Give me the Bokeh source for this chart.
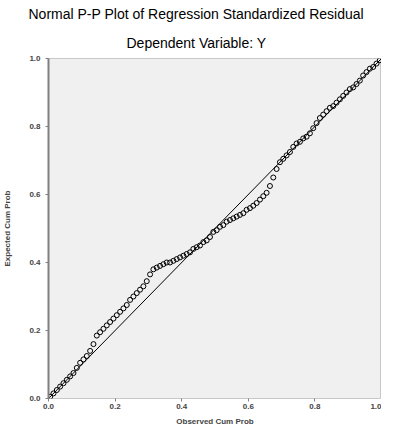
from bokeh.plotting import figure
from bokeh.models import Range1d, FixedTicker, Title, ColumnDataSource
from bokeh.embed import file_html
from bokeh.resources import INLINE

# Observed cumulative probability (x) and expected cumulative probability (y)
observed = [0.005, 0.015, 0.025, 0.035, 0.045, 0.055, 0.065, 0.075, 0.085, 0.095,
            0.105, 0.115, 0.125, 0.135, 0.145, 0.155, 0.165, 0.175, 0.185, 0.195,
            0.205, 0.215, 0.225, 0.235, 0.245, 0.255, 0.265, 0.275, 0.285, 0.295,
            0.305, 0.315, 0.325, 0.335, 0.345, 0.355, 0.365, 0.375, 0.385, 0.395,
            0.405, 0.415, 0.425, 0.435, 0.445, 0.455, 0.465, 0.475, 0.485, 0.495,
            0.505, 0.515, 0.525, 0.535, 0.545, 0.555, 0.565, 0.575, 0.585, 0.595,
            0.605, 0.615, 0.625, 0.635, 0.645, 0.655, 0.665, 0.675, 0.685, 0.695,
            0.705, 0.715, 0.725, 0.735, 0.745, 0.755, 0.765, 0.775, 0.785, 0.795,
            0.805, 0.815, 0.825, 0.835, 0.845, 0.855, 0.865, 0.875, 0.885, 0.895,
            0.905, 0.915, 0.925, 0.935, 0.945, 0.955, 0.965, 0.975, 0.985, 0.995]
expected = [0.005, 0.015, 0.025, 0.035, 0.045, 0.055, 0.065, 0.075, 0.090, 0.105,
            0.115, 0.125, 0.140, 0.160, 0.185, 0.195, 0.205, 0.215, 0.225, 0.235,
            0.245, 0.255, 0.265, 0.275, 0.290, 0.300, 0.310, 0.320, 0.330, 0.345,
            0.365, 0.380, 0.385, 0.390, 0.395, 0.400, 0.400, 0.405, 0.410, 0.415,
            0.420, 0.425, 0.430, 0.440, 0.445, 0.450, 0.460, 0.465, 0.475, 0.490,
            0.495, 0.505, 0.510, 0.520, 0.525, 0.530, 0.535, 0.540, 0.545, 0.555,
            0.560, 0.567, 0.575, 0.585, 0.595, 0.605, 0.625, 0.650, 0.675, 0.695,
            0.705, 0.715, 0.725, 0.740, 0.750, 0.755, 0.765, 0.770, 0.780, 0.795,
            0.810, 0.825, 0.835, 0.845, 0.855, 0.860, 0.870, 0.880, 0.890, 0.900,
            0.910, 0.915, 0.925, 0.935, 0.950, 0.960, 0.970, 0.975, 0.985, 0.995]

# Reference (identity) line
ref_x = [0.0, 1.0]
ref_y = [0.0, 1.0]

tick_values = [0.0, 0.2, 0.4, 0.6, 0.8, 1.0]
tick_labels = ["0.0", "0.2", "0.4", "0.6", "0.8", "1.0"]

title_main = "Normal P-P Plot of Regression Standardized Residual"
title_sub = "Dependent Variable: Y"
x_label = "Observed Cum Prob"
y_label = "Expected Cum Prob"

FONT = "Liberation Sans"

p = figure(width=381, height=428, output_backend="svg", toolbar_location=None,
           x_range=Range1d(0, 1), y_range=Range1d(0, 1),
           min_border_left=48, min_border_right=0, min_border_top=0, min_border_bottom=27,
           background_fill_color="#f0f0f0", border_fill_color="white")
p.title = None
p.outline_line_color = "#c8c8c8"
p.grid.visible = False

p.add_layout(Title(text=title_sub, align="left", text_font=FONT, text_font_size="14px",
                   text_font_style="normal", text_color="black", standoff=16, offset=78), "above")
p.add_layout(Title(text=title_main, align="left", text_font=FONT, text_font_size="14px",
                   text_font_style="normal", text_color="black", standoff=6, offset=-20), "above")

src = ColumnDataSource(dict(x=observed, y=expected))
p.line(ref_x, ref_y, line_color="black", line_width=1)
p.scatter("x", "y", source=src, marker="circle", size=5, fill_color=None,
          line_color="black", line_width=1)

for ax in (p.xaxis[0], p.yaxis[0]):
    ax.ticker = FixedTicker(ticks=tick_values)
    ax.major_label_overrides = {v: l for v, l in zip(tick_values, tick_labels)}
    ax.minor_tick_line_color = None
    ax.major_tick_in = 0
    ax.major_tick_out = 3
    ax.major_tick_line_color = "#808080"
    ax.major_label_text_font = FONT
    ax.major_label_text_font_size = "8px"
    ax.major_label_text_font_style = "bold"
    ax.axis_label_text_font = FONT
    ax.axis_label_text_font_size = "8px"
    ax.axis_label_text_font_style = "bold"
    ax.major_label_standoff = 2
    ax.axis_label_standoff = 5

p.xaxis[0].axis_label = x_label
p.yaxis[0].axis_label = y_label
p.xaxis[0].axis_line_color = None
p.yaxis[0].axis_line_color = "#808080"
p.yaxis[0].axis_line_width = 2
p.yaxis[0].major_label_orientation = "horizontal"
p.yaxis[0].major_label_standoff = 5
p.yaxis[0].axis_label_standoff = 14

open("out.html", "w").write(file_html(p, INLINE))
